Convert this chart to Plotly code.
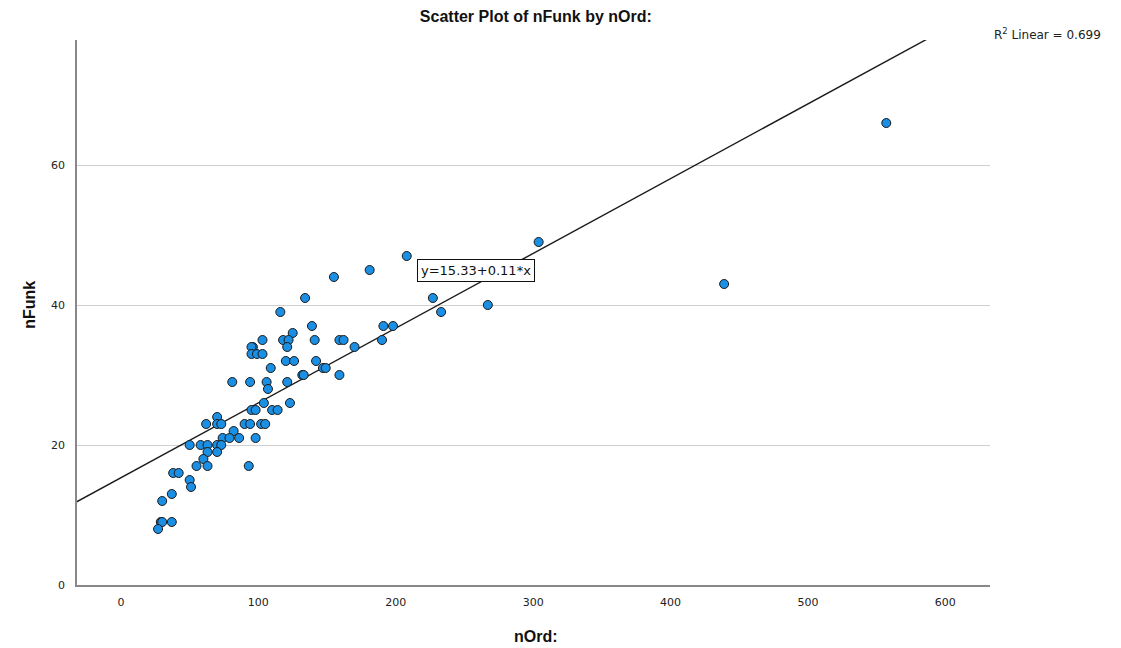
import plotly.graph_objects as go

n_ord = [557, 439, 304, 267, 233, 227, 208, 181, 155, 134, 116, 139, 125, 191, 198,
         103, 118, 122, 141, 159, 162, 190, 121, 170, 96, 95, 95, 99, 103, 120, 126,
         142, 109, 147, 149, 132, 133, 159, 81, 94, 106, 107, 121, 104, 123, 95, 98,
         110, 114, 62, 70, 70, 73, 90, 94, 102, 105, 82, 74, 79, 86, 98, 50, 58, 63,
         70, 73, 63, 70, 60, 55, 63, 93, 38, 42, 50, 51, 37, 30, 29, 30, 37, 27]
n_funk = [66, 43, 49, 40, 39, 41, 47, 45, 44, 41, 39, 37, 36, 37, 37,
          35, 35, 35, 35, 35, 35, 35, 34, 34, 34, 34, 33, 33, 33, 32, 32,
          32, 31, 31, 31, 30, 30, 30, 29, 29, 29, 28, 29, 26, 26, 25, 25,
          25, 25, 23, 24, 23, 23, 23, 23, 23, 23, 22, 21, 21, 21, 21, 20, 20, 20,
          20, 20, 19, 19, 18, 17, 17, 17, 16, 16, 15, 14, 13, 12, 9, 9, 9, 8]

fit_intercept = 15.33
fit_slope = 0.1068
fit_x = [-40, 640]
fit_y = [fit_intercept + fit_slope * v for v in fit_x]

x_ticks = [0, 100, 200, 300, 400, 500, 600]
y_ticks = [0, 20, 40, 60]

tick_font = dict(family="DejaVu Sans, sans-serif", size=11, color="#222")
axis_title_font = dict(family="Liberation Sans, Arial, sans-serif", size=16, color="#111")

fig = go.Figure()
fig.add_trace(go.Scatter(x=fit_x, y=fit_y, mode="lines",
                         line=dict(color="#1a1a1a", width=1.4), hoverinfo="skip"))
fig.add_trace(go.Scatter(x=n_ord, y=n_funk, mode="markers",
                         marker=dict(size=9, color="#1a8fe3",
                                     line=dict(color="#1a1a1a", width=1))))

fig.update_layout(
    width=1121, height=648,
    margin=dict(l=77, r=131, t=40, b=63, autoexpand=False),
    paper_bgcolor="white", plot_bgcolor="white",
    showlegend=False,
    font=dict(family="Liberation Sans, Arial, sans-serif", color="#222"),
    title=dict(text="<b>Scatter Plot of nFunk by nOrd:</b>", x=0.478, xanchor="center",
               y=0.975, yanchor="middle", font=dict(size=16, color="#111")),
    xaxis=dict(range=[-32, 632.5], tickvals=x_ticks, showgrid=False, zeroline=False,
               showline=True, linecolor="#888", linewidth=1.5, ticks="",
               tickfont=tick_font, ticklabelstandoff=6, automargin=False),
    yaxis=dict(range=[0, 77.86], tickvals=y_ticks, showgrid=True, gridcolor="#cfcfcf",
               gridwidth=1, zeroline=False, showline=True, linecolor="#888", linewidth=1.5,
               ticks="", tickfont=tick_font, ticklabelstandoff=8, automargin=False),
)

fig.add_annotation(x=0.503, y=-0.0954, xref="paper", yref="paper",
                   xanchor="center", yanchor="middle",
                   text="<b>nOrd:</b>", showarrow=False, font=axis_title_font)
fig.add_annotation(x=-0.0515, y=0.514, xref="paper", yref="paper",
                   xanchor="center", yanchor="middle", textangle=-90,
                   text="<b>nFunk</b>", showarrow=False, font=axis_title_font)
fig.add_annotation(x=258.5, y=45, xref="x", yref="y",
                   text="y=15.33+0.11*x", showarrow=False,
                   font=dict(family="DejaVu Sans, sans-serif", size=13, color="#111"),
                   bgcolor="white", bordercolor="#111", borderwidth=1, borderpad=3)
fig.add_annotation(x=1.002, y=1.011, xref="paper", yref="paper", xanchor="left",
                   yanchor="middle", text="R<sup>2</sup> Linear = 0.699", showarrow=False,
                   font=dict(family="DejaVu Sans, sans-serif", size=12, color="#222"))

fig.write_html("out.html")
